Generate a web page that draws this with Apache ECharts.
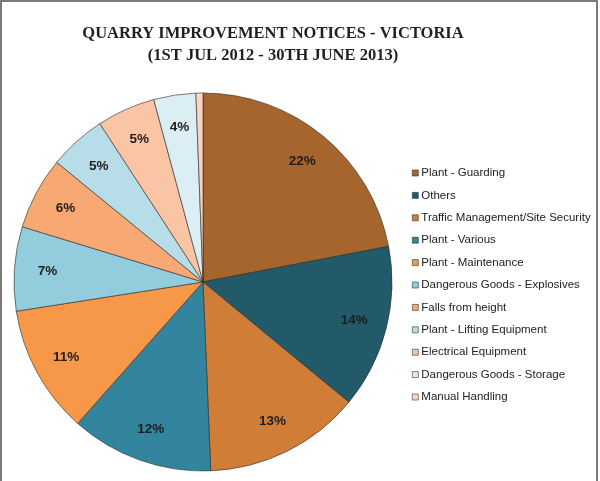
<!DOCTYPE html>
<html>
<head>
<meta charset="utf-8">
<script src="https://cdn.jsdelivr.net/npm/echarts@6/dist/echarts.min.js"></script>
<style>
  html, body { margin: 0; padding: 0; background: #fff; }
  #main { width: 600px; height: 481px; }
</style>
</head>
<body>
<div id="main"></div>
<script>
// categories, clockwise from 12 o'clock
var categories = [
  'Plant - Guarding',
  'Others',
  'Traffic Management/Site Security',
  'Plant - Various',
  'Plant - Maintenance',
  'Dangerous Goods - Explosives',
  'Falls from height',
  'Plant - Lifting Equipment',
  'Electrical Equipment',
  'Dangerous Goods - Storage',
  'Manual Handling'
];
// share of notices (%)
var shares = [22.0, 14.0, 13.4, 12.2, 11.0, 7.2, 6.2, 4.9, 5.0, 3.6, 0.6];
var colors = ['#a6652c', '#225a69', '#d07e37', '#32859c', '#f79748', '#93cddd',
  '#f8a873', '#b7dee8', '#fac5a5', '#daeef3', '#fcd5c2'];

var chart = echarts.init(document.getElementById('main'));

var pieData = [];
for (var i = 0; i < categories.length; i++) {
  pieData.push({ name: categories[i], value: shares[i] });
}

var option = {
  animation: false,
  color: colors,
  graphic: [
    // grey frame round the chart (left, top, right)
    { type: 'line', shape: { x1: 1, y1: 0, x2: 1, y2: 481 }, style: { stroke: '#7a7a7a', lineWidth: 2 } },
    { type: 'line', shape: { x1: 0, y1: 1, x2: 598, y2: 1 }, style: { stroke: '#7a7a7a', lineWidth: 2 } },
    { type: 'line', shape: { x1: 597, y1: 0, x2: 597, y2: 481 }, style: { stroke: '#7a7a7a', lineWidth: 2 } }
  ],
  title: {
    text: 'QUARRY IMPROVEMENT NOTICES - VICTORIA\n(1ST JUL 2012 - 30TH JUNE 2013)',
    left: 268,
    top: 18,
    textAlign: 'center',
    textStyle: {
      fontFamily: 'Liberation Serif',
      fontWeight: 'bold',
      fontSize: 16.5,
      lineHeight: 22,
      color: '#231f20'
    }
  },
  legend: {
    orient: 'vertical',
    left: 407,
    top: 162,
    icon: 'rect',
    itemWidth: 6,
    itemHeight: 6,
    itemGap: 10.4,
    selectedMode: false,
    data: categories,
    itemStyle: { borderColor: '#333', borderWidth: 0.6 },
    textStyle: {
      fontFamily: 'Liberation Sans',
      fontSize: 11.5,
      color: '#222',
      padding: [0, 0, 0, -2]
    }
  },
  series: [
    {
      name: 'Notices',
      type: 'pie',
      center: [203, 282],
      radius: [0, 189],
      startAngle: 90,
      clockwise: true,
      silent: true,
      label: { show: false },
      labelLine: { show: false },
      itemStyle: { borderColor: 'rgba(40,40,40,0.85)', borderWidth: 0.7 },
      data: pieData
    },
    {
      // transparent ring that only carries the percent labels
      name: 'labels',
      type: 'pie',
      center: [203, 282],
      radius: [117, 189],
      startAngle: 90,
      clockwise: true,
      silent: true,
      itemStyle: { color: 'rgba(0,0,0,0)', borderWidth: 0 },
      labelLine: { show: false },
      label: {
        show: true,
        position: 'inside',
        fontFamily: 'Liberation Sans',
        fontWeight: 'bold',
        fontSize: 13.5,
        color: '#1e1e1e',
        formatter: function (p) {
          return p.percent < 2 ? '' : Math.round(p.percent) + '%';
        }
      },
      data: pieData
    }
  ]
};

chart.setOption(option);
</script>
</body>
</html>
